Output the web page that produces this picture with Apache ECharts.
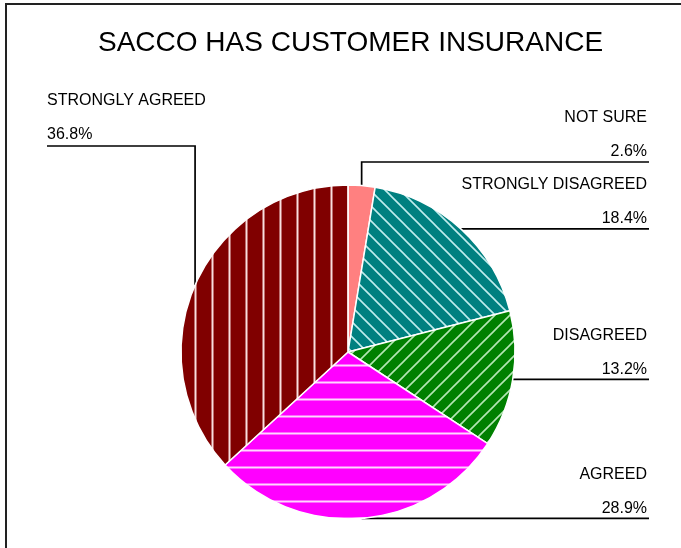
<!DOCTYPE html>
<html>
<head>
<meta charset="utf-8">
<title>SACCO HAS CUSTOMER INSURANCE</title>
<script src="https://cdn.jsdelivr.net/npm/echarts@6/dist/echarts.min.js"></script>
<style>
  html, body { margin: 0; padding: 0; background: #ffffff; }
  #chart { width: 681px; height: 548px; }
</style>
</head>
<body>
<div id="chart"></div>
<script>
// Survey responses, percent of respondents
const categories = ['NOT SURE', 'STRONGLY DISAGREED', 'DISAGREED', 'AGREED', 'STRONGLY AGREED'];
const percents = [2.6, 18.4, 13.2, 28.9, 36.8];
const percentLabels = ['2.6%', '18.4%', '13.2%', '28.9%', '36.8%'];

// Label placement per slice: which side the text sits on, and an optional
// fixed height for the horizontal leader segment (otherwise it leaves the
// slice edge horizontally).
const labelSide = ['right', 'right', 'right', 'right', 'left'];
const labelLineY = [162, null, null, null, 146];
const RIGHT_EDGE = 649;
const LEFT_EDGE = 47;

function hatch(bg, fg, kind, size, width) {
  const c = document.createElement('canvas');
  c.width = size; c.height = size;
  const g = c.getContext('2d');
  g.fillStyle = bg;
  g.fillRect(0, 0, size, size);
  g.strokeStyle = fg;
  g.lineWidth = width;
  g.beginPath();
  if (kind === 'vertical') {
    g.moveTo(size / 2, 0); g.lineTo(size / 2, size);
  } else if (kind === 'horizontal') {
    g.moveTo(0, size / 2); g.lineTo(size, size / 2);
  } else if (kind === 'down') {
    g.moveTo(-2, -2); g.lineTo(size + 2, size + 2);
    g.moveTo(-2, size - 2); g.lineTo(2, size + 2);
    g.moveTo(size - 2, -2); g.lineTo(size + 2, 2);
  } else if (kind === 'up') {
    g.moveTo(-2, size + 2); g.lineTo(size + 2, -2);
    g.moveTo(-2, 2); g.lineTo(2, -2);
    g.moveTo(size - 2, size + 2); g.lineTo(size + 2, size - 2);
  }
  g.stroke();
  return { image: c, repeat: 'repeat' };
}

const fills = [
  '#ff8080',
  hatch('#008080', 'rgba(225,255,255,0.85)', 'down', 15, 1.6),
  hatch('#008000', 'rgba(225,255,225,0.8)', 'up', 15, 1.6),
  hatch('#ff00ff', 'rgba(255,225,255,0.95)', 'horizontal', 17, 2),
  hatch('#800000', 'rgba(255,235,235,0.95)', 'vertical', 17, 2)
];

const data = categories.map((name, i) => ({
  name: name,
  value: percents[i],
  itemStyle: { color: fills[i] }
}));

const chart = echarts.init(document.getElementById('chart'), null, { renderer: 'canvas' });

chart.setOption({
  backgroundColor: '#ffffff',
  animation: false,
  title: {
    text: 'SACCO HAS CUSTOMER INSURANCE',
    left: 93,
    top: 24,
    textStyle: {
      fontFamily: '"Liberation Sans", Arial, sans-serif',
      fontSize: 28,
      fontWeight: 'normal',
      color: '#000000'
    }
  },
  graphic: [
    { type: 'line', shape: { x1: 5, y1: 4, x2: 681, y2: 4 }, style: { stroke: '#222', lineWidth: 2 } },
    { type: 'line', shape: { x1: 6, y1: 4, x2: 6, y2: 548 }, style: { stroke: '#222', lineWidth: 2 } }
  ],
  series: [{
    type: 'pie',
    center: [348, 352],
    radius: 167,
    startAngle: 90,
    clockwise: true,
    avoidLabelOverlap: false,
    data: data,
    itemStyle: { borderColor: '#ffffff', borderWidth: 1.5 },
    emphasis: { disabled: true },
    label: {
      show: true,
      position: 'outside',
      formatter: (p) => '{n|' + p.name + '}\n{v|' + percentLabels[p.dataIndex] + '}',
      rich: {
        n: { fontFamily: '"Liberation Sans", Arial, sans-serif', fontSize: 16, lineHeight: 34, color: '#000' },
        v: { fontFamily: '"Liberation Sans", Arial, sans-serif', fontSize: 16, lineHeight: 34, color: '#000' }
      }
    },
    labelLine: {
      show: true,
      smooth: false,
      lineStyle: { color: '#000000', width: 1.7 }
    },
    labelLayout: function (params) {
      const i = params.dataIndex;
      const start = params.labelLinePoints[0];
      const sx = start[0], sy = start[1];
      const side = labelSide[i];
      const y = labelLineY[i] != null ? labelLineY[i] : sy;
      const endX = side === 'right' ? RIGHT_EDGE : LEFT_EDGE;
      return {
        x: side === 'right' ? endX - 2 : endX,
        y: y + (side === 'right' ? 7 : 6),
        align: side === 'right' ? 'right' : 'left',
        verticalAlign: 'bottom',
        labelLinePoints: [[sx, sy], [sx, y], [endX, y]]
      };
    }
  }]
});
</script>
</body>
</html>
